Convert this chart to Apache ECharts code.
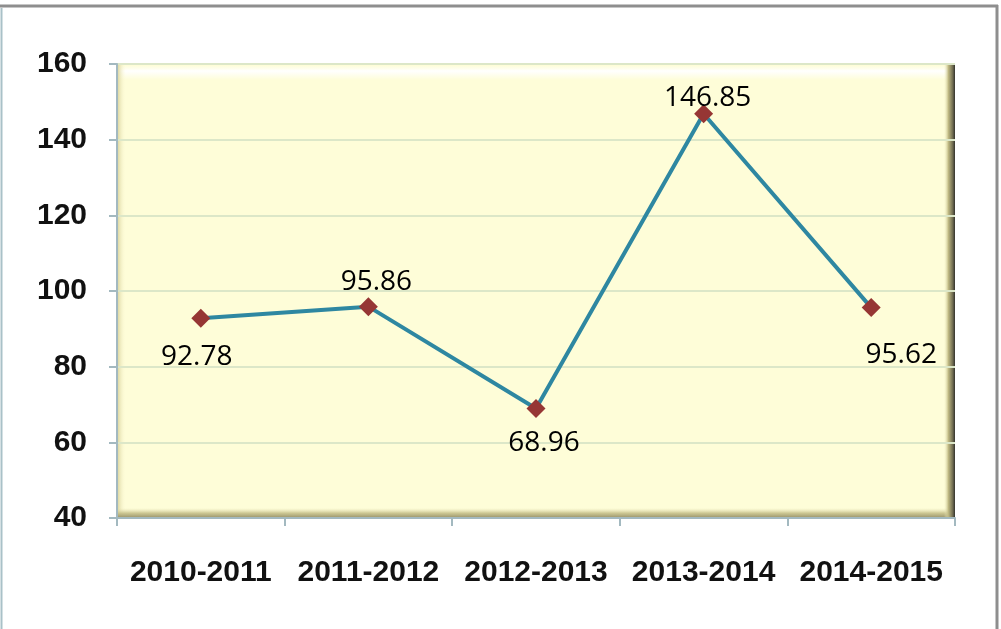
<!DOCTYPE html>
<html>
<head>
<meta charset="utf-8">
<script src="https://cdn.jsdelivr.net/npm/echarts@6/dist/echarts.min.js"></script>
<style>
  html, body { margin: 0; padding: 0; background: #ffffff; }
  #chart { width: 1001px; height: 629px; }
</style>
</head>
<body>
<div id="chart"></div>
<script>
// Yearly values per academic year
const categories = ['2010-2011', '2011-2012', '2012-2013', '2013-2014', '2014-2015'];
const values = [92.78, 95.86, 68.96, 146.85, 95.62];
const yTicks = { min: 40, max: 160, step: 20 };

// Plot frame (pixels)
const G = { left: 117, top: 64, right: 46, bottom: 111 };
const W = 1001, H = 629;
const px = { x0: G.left, y0: G.top, x1: W - G.right, y1: H - G.bottom };

// Where each value label sits relative to its marker
const labelPlace = [
  { position: 'bottom', offset: [-4, 10] },
  { position: 'top', offset: [8, 4] },
  { position: 'bottom', offset: [8, 6] },
  { position: 'top', offset: [4, 13] },
  { position: 'bottom', offset: [30, 19] }
];

const chart = echarts.init(document.getElementById('chart'), null, { renderer: 'canvas' });

// Bevel edges around the plot background
const bevel = [
  { type: 'rect', shape: { x: px.x0, y: px.y0 + 2, width: px.x1 - px.x0, height: 14 },
    style: { fill: new echarts.graphic.LinearGradient(0, 0, 0, 1, [
      { offset: 0, color: 'rgba(255,255,240,0.2)' },
      { offset: 0.35, color: 'rgba(255,255,255,1)' },
      { offset: 1, color: 'rgba(255,255,255,0)' }]) }, z: 1, silent: true },
  { type: 'rect', shape: { x: px.x0 + 1, y: px.y0, width: 8, height: px.y1 - px.y0 },
    style: { fill: new echarts.graphic.LinearGradient(0, 0, 1, 0, [
      { offset: 0, color: 'rgba(220,214,160,0.9)' },
      { offset: 1, color: 'rgba(255,253,220,0)' }]) }, z: 1, silent: true },
  { type: 'rect', shape: { x: px.x0, y: px.y1 - 10, width: px.x1 - px.x0, height: 10 },
    style: { fill: new echarts.graphic.LinearGradient(0, 0, 0, 1, [
      { offset: 0, color: 'rgba(230,226,180,0)' },
      { offset: 0.5, color: 'rgba(200,194,140,0.9)' },
      { offset: 1, color: 'rgba(150,144,104,1)' }]) }, z: 1, silent: true },
  { type: 'rect', shape: { x: px.x1 - 11, y: px.y0, width: 11, height: px.y1 - px.y0 },
    style: { fill: new echarts.graphic.LinearGradient(0, 0, 1, 0, [
      { offset: 0, color: 'rgba(240,236,190,0)' },
      { offset: 0.4, color: 'rgba(190,184,130,1)' },
      { offset: 0.8, color: 'rgba(110,106,80,1)' },
      { offset: 1, color: 'rgba(50,50,44,1)' }]) }, z: 1, silent: true },
  // top edge line of plot area
  { type: 'line', shape: { x1: px.x0, y1: px.y0 + 0.5, x2: px.x1, y2: px.y0 + 0.5 },
    style: { stroke: '#BFE0D6', lineWidth: 1 }, z: 2, silent: true },
  // outer frame
  { type: 'line', shape: { x1: 0, y1: 6, x2: 998, y2: 6 },
    style: { stroke: '#8E8E8E', lineWidth: 3 }, silent: true },
  { type: 'line', shape: { x1: 997, y1: 5, x2: 997, y2: H },
    style: { stroke: '#8E8E8E', lineWidth: 3 }, silent: true },
  { type: 'line', shape: { x1: 1.5, y1: 8, x2: 1.5, y2: H },
    style: { stroke: '#A9C1C8', lineWidth: 2 }, silent: true }
];

chart.setOption({
  backgroundColor: '#ffffff',
  animation: false,
  graphic: bevel,
  grid: {
    left: G.left, top: G.top, right: G.right, bottom: G.bottom,
    show: true, backgroundColor: '#FEFDD8', borderWidth: 0
  },
  xAxis: {
    type: 'category',
    data: categories,
    boundaryGap: true,
    axisLine: { show: true, lineStyle: { color: '#A3B9C0', width: 2 } },
    axisTick: { show: true, length: 8, lineStyle: { color: '#A3B9C0', width: 2 } },
    axisLabel: {
      interval: 0, margin: 40, color: '#111', fontSize: 30, fontWeight: 'bold',
      fontFamily: 'Liberation Sans, Arial, sans-serif'
    },
    z: 3
  },
  yAxis: {
    type: 'value',
    min: yTicks.min, max: yTicks.max, interval: yTicks.step,
    axisLine: { show: true, lineStyle: { color: '#A3B9C0', width: 2 } },
    axisTick: { show: true, length: 8, lineStyle: { color: '#A3B9C0', width: 2 } },
    splitLine: { show: true, lineStyle: { color: '#DCE7C8', width: 2 } },
    axisLabel: {
      margin: 30, color: '#111', fontSize: 30, fontWeight: 'bold',
      fontFamily: 'Liberation Sans, Arial, sans-serif'
    },
    z: 3
  },
  series: [{
    type: 'line',
    data: values.map((v, i) => ({
      value: v,
      label: { position: labelPlace[i].position, offset: labelPlace[i].offset }
    })),
    z: 5,
    lineStyle: { color: '#2E87A1', width: 4 },
    symbol: 'diamond',
    symbolSize: 19,
    itemStyle: { color: '#963634' },
    label: {
      show: true, color: '#000', fontSize: 28,
      fontFamily: 'Open Sans, Liberation Sans, Arial, sans-serif',
      formatter: p => p.value.toFixed(2)
    }
  }]
});
</script>
</body>
</html>
